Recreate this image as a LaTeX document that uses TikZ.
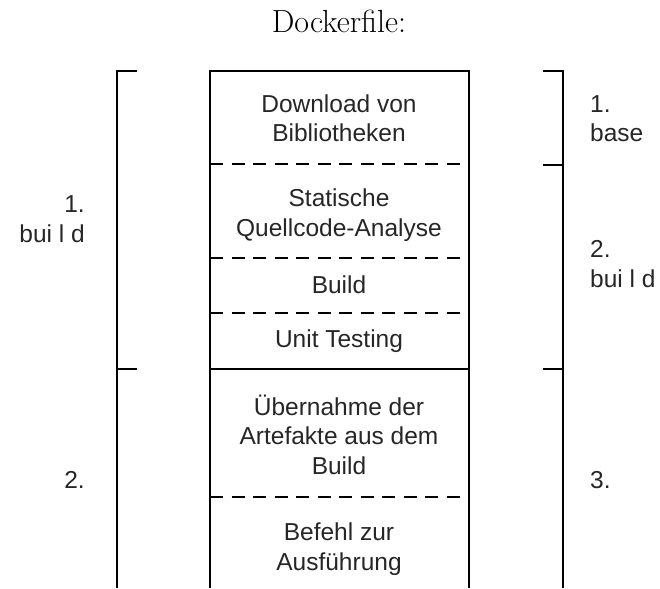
\documentclass[tikz,border=0pt]{standalone}
\usepackage{fontspec}
\newfontfamily\labelfont{Liberation Sans}
\begin{document}
\begin{tikzpicture}[x=1pt,y=-1pt,
  rule/.style={line width=1.6pt,black},
  stagerule/.style={line width=1.6pt,black,dash pattern=on 13pt off 8.5pt},
  stagetext/.style={font=\labelfont\fontsize{24.5}{29.5}\selectfont,text=black!85,align=center,inner sep=0pt,anchor=base},
  sidetext/.style={font=\labelfont\fontsize{24.5}{29.5}\selectfont,text=black!85,inner sep=0pt}]
\useasboundingbox (0,0) rectangle (660,588);

% title
\node[font=\fontsize{32}{38}\selectfont,inner sep=0pt,anchor=base] (title) at (339,33) {Dockerfile:};

% the stack of build steps
\coordinate (tl) at (210,71);
\coordinate (tr) at (469,71);
\coordinate (bl) at (210,588);
\coordinate (br) at (469,588);
\draw[rule] (bl) -- (tl) -- (tr) -- (br);
\draw[stagerule] (210,164) -- (469,164);
\draw[stagerule] (210,258) -- (469,258);
\draw[stagerule] (210,313) -- (469,313);
\draw[rule] (210,369) -- (469,369);
\draw[stagerule] (210,497) -- (469,497);

% multi-line nodes are placed by the baseline of their last line
\node[stagetext] (dl) at (339,142) {Download von\\Bibliotheken};
\node[stagetext] (sq) at (339,236) {Statische\\Quellcode-Analyse};
\node[stagetext] (bd) at (339,293) {Build};
\node[stagetext] (ut) at (339,347) {Unit Testing};
\node[stagetext] (ub) at (339,474) {Übernahme der\\Artefakte aus dem\\Build};
\node[stagetext] (bf) at (339,570) {Befehl zur\\Ausführung};

% left bracket: stages
\draw[rule] (137,71) -- (117,71) -- (117,588);
\draw[rule] (117,369) -- (137,369);
\node[sidetext,align=right,anchor=base east] (lb1) at (85,242) {1.\\bui l d};
\node[sidetext,anchor=base east] (lb2) at (85,488) {2.};

% right bracket: images
\draw[rule] (543,71) -- (563,71) -- (563,588);
\draw[rule] (543,165) -- (563,165);
\draw[rule] (543,369) -- (563,369);
\node[sidetext,align=left,anchor=base west] (rb1) at (590,142) {1.\\base};
\node[sidetext,align=left,anchor=base west] (rb2) at (590,287) {2.\\bui l d};
\node[sidetext,anchor=base west] (rb3) at (590,488) {3.};
\end{tikzpicture}
\end{document}
